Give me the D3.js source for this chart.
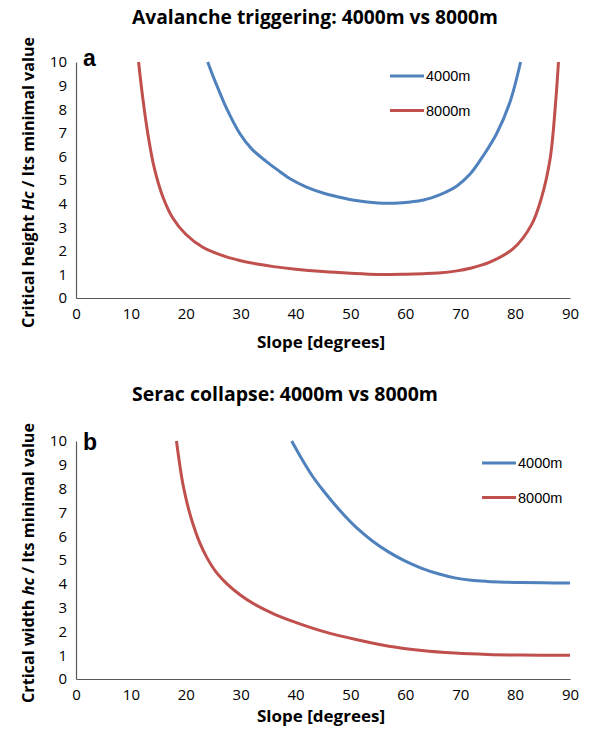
<!DOCTYPE html>
<html>
<head>
<meta charset="utf-8">
<script src="https://cdn.jsdelivr.net/npm/d3@7"></script>
<style>
  body { margin: 0; background: #fff; }
  .tick text { font-family: "Open Sans", sans-serif; font-size: 15px; fill: #000; }
  .domain { stroke: #595959; stroke-width: 1.2; }
  .bold-label { font-family: "Open Sans", sans-serif; font-weight: bold; fill: #000; }
  .legend-text { font-family: "Liberation Sans", Arial, sans-serif; font-size: 14.5px; fill: #000; }
</style>
</head>
<body>
<div id="vis"></div>
<script>
// ticks
const slopeTicks = [0, 10, 20, 30, 40, 50, 60, 70, 80, 90]
const valueTicks = [0, 1, 2, 3, 4, 5, 6, 7, 8, 9, 10]
const seriesNames = ["4000m", "8000m"]
const seriesColors = ["#4f81bd", "#c0504d"]

// panel a: avalanche triggering
const avalancheSlope4000 = [24, 25, 26.2, 27.3, 29.9, 32, 34.7, 37, 39, 42, 45, 48, 51, 55, 58, 61, 63.3, 66, 69.4, 71.8, 74.2, 76.6, 79.1, 81]
const avalancheValue4000 = [10, 9.38, 8.7, 8.1, 6.95, 6.32, 5.78, 5.38, 5.05, 4.7, 4.45, 4.27, 4.13, 4.03, 4.02, 4.07, 4.15, 4.35, 4.75, 5.25, 6.03, 6.95, 8.33, 10]
const avalancheSlope8000 = [11.4, 12.15, 13.06, 14.27, 15.8, 17.6, 20, 23.1, 27.3, 30, 33, 36, 40, 45, 50, 55, 60, 63.3, 66, 69.4, 71.8, 75.4, 79.7, 83, 84.8, 86.4, 87.3, 87.9]
const avalancheValue8000 = [10, 8.5, 7.0, 5.5, 4.3, 3.4, 2.7, 2.15, 1.75, 1.58, 1.44, 1.33, 1.22, 1.12, 1.05, 1.0, 1.01, 1.03, 1.06, 1.15, 1.26, 1.52, 2.1, 3.11, 4.24, 5.93, 8.05, 10]

// panel b: serac collapse
const seracSlope4000 = [39.3, 41, 43, 45, 48, 51, 54, 57, 60, 63, 66, 69, 72, 75, 78, 81, 85, 90]
const seracValue4000 = [10, 9.3, 8.55, 7.93, 7.1, 6.38, 5.8, 5.33, 4.95, 4.65, 4.42, 4.25, 4.15, 4.1, 4.07, 4.05, 4.04, 4.03]
const seracSlope8000 = [18.3, 19, 19.55, 20.5, 21.4, 22.5, 23.8, 25.5, 27.5, 30, 32.3, 36, 39.5, 45, 51, 57, 63, 69, 75, 81, 90]
const seracValue8000 = [10, 8.85, 8.1, 7.15, 6.45, 5.75, 5.12, 4.5, 4.0, 3.52, 3.17, 2.74, 2.42, 2.0, 1.66, 1.38, 1.2, 1.09, 1.03, 1.005, 1.0]

const W = 589, H = 734

const svg = d3.select('#vis')
    .append('svg')
    .attr('width', W)
    .attr('height', H)

const xScale = d3.scaleLinear().domain([0, 90]).range([76, 570])

function zip(xs, ys){
    return xs.map((x, i) => ({slope: x, value: ys[i]}))
}

// stretch a text to a measured width
function fit(sel, w){
    sel.attr('textLength', w).attr('lengthAdjust', 'spacingAndGlyphs')
}

function drawPanel(p){
    const yScale = d3.scaleLinear().domain([0, 10]).range([p.bottom, p.top])
    const g = svg.append('g')

    // title
    g.append('text')
        .attr('class', 'bold-label')
        .attr('x', 132)
        .attr('y', p.titleY)
        .style('font-size', '20px')
        .text(p.title)
        .call(fit, p.titleW)

    // axes
    g.append('g')
        .attr('transform', `translate(0,${p.bottom})`)
        .call(d3.axisBottom(xScale).tickValues(slopeTicks).tickSize(0).tickSizeOuter(0).tickPadding(10))
    g.append('g')
        .attr('transform', `translate(76,0)`)
        .call(d3.axisLeft(yScale).tickValues(valueTicks).tickSize(0).tickSizeOuter(0).tickPadding(9))

    // axis labels
    g.append('text')
        .attr('class', 'bold-label')
        .attr('x', 321)
        .attr('y', p.xLabelY)
        .attr('text-anchor', 'middle')
        .style('font-size', '16px')
        .text('Slope [degrees]')
        .call(fit, 128)

    const yl = g.append('text')
        .attr('class', 'bold-label')
        .attr('transform', `translate(34,${p.yLabelMid}) rotate(-90)`)
        .attr('text-anchor', 'middle')
        .style('font-size', '16px')
    yl.append('tspan').text(p.yLabel[0])
    yl.append('tspan').style('font-style', 'italic').text(p.yLabel[1])
    yl.append('tspan').text(p.yLabel[2])
    yl.call(fit, p.yLabelW)

    // panel letter
    g.append('text')
        .attr('x', 83)
        .attr('y', p.letterY)
        .style('font-family', '"Liberation Sans", Arial, sans-serif')
        .style('font-weight', 'bold')
        .style('font-size', '23px')
        .text(p.letter)

    // curves
    const lineGen = d3.line()
        .curve(d3.curveCatmullRom.alpha(0.5))
        .x(d => xScale(d.slope))
        .y(d => yScale(d.value))

    g.selectAll('.curve')
        .data(p.series)
        .join('path')
        .attr('class', 'curve')
        .attr('fill', 'none')
        .attr('stroke', (d, i) => seriesColors[i])
        .attr('stroke-width', 3)
        .attr('d', d => lineGen(d))

    // legend
    const legend = g.append('g')
        .attr('transform', `translate(${p.legendX},${p.legendY})`)
    const row = legend.selectAll('.legend-row')
        .data(seriesNames)
        .join('g')
        .attr('transform', (d, i) => `translate(0,${i * 34.5})`)
    row.append('line')
        .attr('x1', 0).attr('x2', 34)
        .attr('stroke', (d, i) => seriesColors[i])
        .attr('stroke-width', 3)
    row.append('text')
        .attr('class', 'legend-text')
        .attr('x', 36)
        .attr('y', 5)
        .text(d => d)
}

drawPanel({
    title: 'Avalanche triggering: 4000m vs 8000m', titleY: 24, titleW: 366,
    top: 62, bottom: 298, xLabelY: 348,
    yLabel: ['Critical height ', 'Hc', ' / Its minimal value'], yLabelMid: 182.5, yLabelW: 291,
    letter: 'a', letterY: 66,
    legendX: 390, legendY: 76,
    series: [zip(avalancheSlope4000, avalancheValue4000), zip(avalancheSlope8000, avalancheValue8000)]
})

drawPanel({
    title: 'Serac collapse: 4000m vs 8000m', titleY: 401, titleW: 306,
    top: 441, bottom: 679, xLabelY: 722,
    yLabel: ['Crtical width ', 'hc', ' / Its minimal value'], yLabelMid: 563, yLabelW: 280,
    letter: 'b', letterY: 450,
    legendX: 482, legendY: 463,
    series: [zip(seracSlope4000, seracValue4000), zip(seracSlope8000, seracValue8000)]
})
</script>
</body>
</html>
